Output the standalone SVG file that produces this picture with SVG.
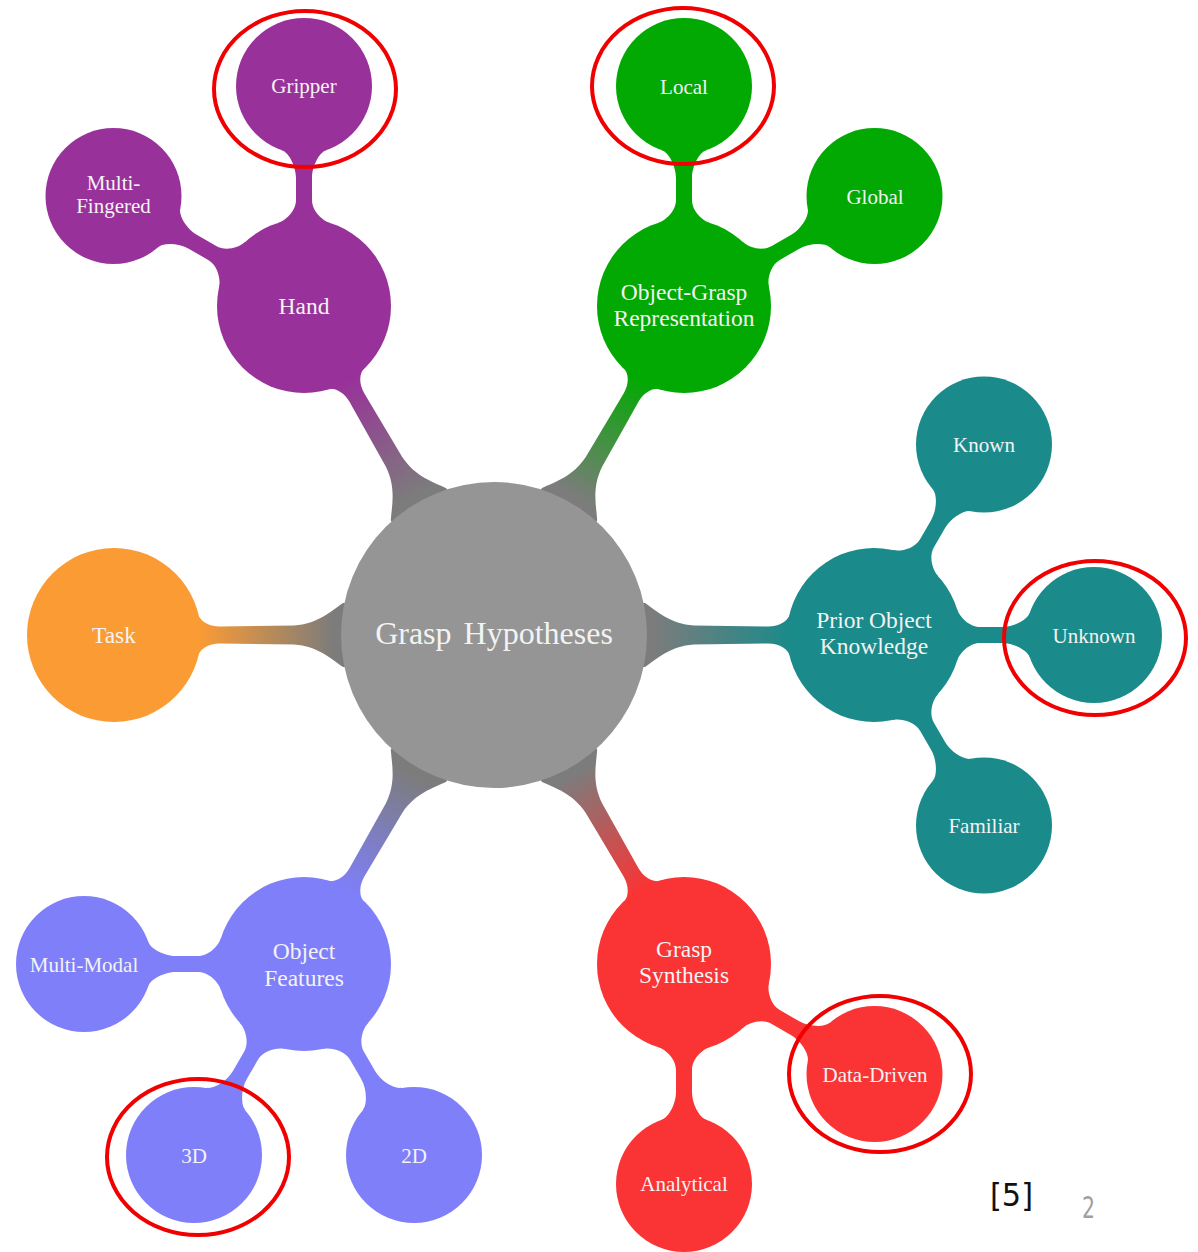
<svg xmlns="http://www.w3.org/2000/svg" width="1198" height="1252" viewBox="0 0 1198 1252">
  <style>
    .t1 { font-family: "Liberation Serif", "DejaVu Serif", serif; font-size: 32px; fill: #f3f3f3; text-anchor: middle; word-spacing: 4px; }
    .t2 { font-family: "Liberation Serif", "DejaVu Serif", serif; font-size: 23.5px; fill: #f3f3f3; text-anchor: middle; }
    .t3 { font-family: "Liberation Serif", "DejaVu Serif", serif; font-size: 21px; fill: #f3f3f3; text-anchor: middle; }
    .gray { fill: #959595; }
    .purple { fill: #99319a; }
    .green { fill: #02a902; }
    .teal { fill: #1b8a8a; }
    .red { fill: #fa3434; }
    .blue { fill: #7f7ff9; }
    .orange { fill: #fb9b34; }
    .mark { fill: none; stroke: #f00000; stroke-width: 4; }
    .ref { font-family: "Liberation Sans Narrow", "DejaVu Sans Condensed", "Liberation Sans", sans-serif; }
  </style>
  <defs>
    <linearGradient id="gPurple" gradientUnits="userSpaceOnUse" x1="160" y1="0" x2="295" y2="0">
      <stop offset="0" stop-color="#7c7c7c"/><stop offset="1" stop-color="#99319a"/>
    </linearGradient>
    <linearGradient id="gGreen" gradientUnits="userSpaceOnUse" x1="160" y1="0" x2="295" y2="0">
      <stop offset="0" stop-color="#7c7c7c"/><stop offset="1" stop-color="#02a902"/>
    </linearGradient>
    <linearGradient id="gTeal" gradientUnits="userSpaceOnUse" x1="160" y1="0" x2="295" y2="0">
      <stop offset="0" stop-color="#7c7c7c"/><stop offset="1" stop-color="#1b8a8a"/>
    </linearGradient>
    <linearGradient id="gRed" gradientUnits="userSpaceOnUse" x1="160" y1="0" x2="295" y2="0">
      <stop offset="0" stop-color="#7c7c7c"/><stop offset="1" stop-color="#fa3434"/>
    </linearGradient>
    <linearGradient id="gBlue" gradientUnits="userSpaceOnUse" x1="160" y1="0" x2="295" y2="0">
      <stop offset="0" stop-color="#7c7c7c"/><stop offset="1" stop-color="#7f7ff9"/>
    </linearGradient>
    <linearGradient id="gOrange" gradientUnits="userSpaceOnUse" x1="160" y1="0" x2="295" y2="0">
      <stop offset="0" stop-color="#7c7c7c"/><stop offset="1" stop-color="#fb9b34"/>
    </linearGradient>
    <!-- center (r=153 at 0) to child (r=87 at 380) -->
    <path id="bar1" d="M130,-32 L151,-32 C163,-24 176,-11 200,-9.5 L274,-8.5 C286,-8.5 294.8,-14.5 296.6,-22.5 L330,-22.5 L330,22.5 L296.6,22.5 C294.8,14.5 286,8.5 274,8.5 L200,9.5 C176,11 163,24 151,32 L130,32 Z"/>
    <!-- child (r=87 at 0) to grandchild (r=68 at 220) -->
    <path id="bar2" d="M60,-26 L83,-26 C85.4,-18.4 95,-8 106,-8 L128,-8 C140,-8 153.4,-15.4 155.7,-22 L175,-22 L175,22 L155.7,22 C153.4,15.4 140,8 128,8 L106,8 C95,8 85.4,18.4 83,26 L60,26 Z"/>
  </defs>

  <rect width="1198" height="1252" fill="#ffffff"/>

  <g id="connectors">
    <use href="#bar1" fill="url(#gPurple)" transform="translate(494,635) rotate(-120)"/>
    <use href="#bar1" fill="url(#gGreen)" transform="translate(494,635) rotate(-60)"/>
    <use href="#bar1" fill="url(#gTeal)" transform="translate(494,635) rotate(0)"/>
    <use href="#bar1" fill="url(#gRed)" transform="translate(494,635) rotate(60)"/>
    <use href="#bar1" fill="url(#gBlue)" transform="translate(494,635) rotate(120)"/>
    <use href="#bar1" fill="url(#gOrange)" transform="translate(494,635) rotate(180)"/>

    <use href="#bar2" class="purple" transform="translate(304,306) rotate(-90)"/>
    <use href="#bar2" class="purple" transform="translate(304,306) rotate(-150)"/>
    <use href="#bar2" class="green" transform="translate(684,306) rotate(-90)"/>
    <use href="#bar2" class="green" transform="translate(684,306) rotate(-30)"/>
    <use href="#bar2" class="teal" transform="translate(874,635) rotate(-60)"/>
    <use href="#bar2" class="teal" transform="translate(874,635) rotate(0)"/>
    <use href="#bar2" class="teal" transform="translate(874,635) rotate(60)"/>
    <use href="#bar2" class="red" transform="translate(684,964) rotate(30)"/>
    <use href="#bar2" class="red" transform="translate(684,964) rotate(90)"/>
    <use href="#bar2" class="blue" transform="translate(304,964) rotate(180)"/>
    <use href="#bar2" class="blue" transform="translate(304,964) rotate(120)"/>
    <use href="#bar2" class="blue" transform="translate(304,964) rotate(60)"/>
  </g>

  <g id="node-grasp-hypotheses">
    <circle class="gray" cx="494" cy="635" r="153"/>
    <text class="t1" x="494" y="644">Grasp Hypotheses</text>
  </g>

  <g id="node-hand">
    <circle class="purple" cx="304" cy="306" r="87"/>
    <text class="t2" x="304" y="314">Hand</text>
  </g>
  <g id="node-gripper">
    <circle class="purple" cx="304" cy="86" r="68"/>
    <text class="t3" x="304" y="93">Gripper</text>
  </g>
  <g id="node-multi-fingered">
    <circle class="purple" cx="113.5" cy="196" r="68"/>
    <text class="t3" x="113.5" y="190">Multi-</text>
    <text class="t3" x="113.5" y="213">Fingered</text>
  </g>

  <g id="node-object-grasp-representation">
    <circle class="green" cx="684" cy="306" r="87"/>
    <text class="t2" x="684" y="300">Object-Grasp</text>
    <text class="t2" x="684" y="326">Representation</text>
  </g>
  <g id="node-local">
    <circle class="green" cx="684" cy="86" r="68"/>
    <text class="t3" x="684" y="94">Local</text>
  </g>
  <g id="node-global">
    <circle class="green" cx="874.5" cy="196" r="68"/>
    <text class="t3" x="875" y="204">Global</text>
  </g>

  <g id="node-prior-object-knowledge">
    <circle class="teal" cx="874" cy="635" r="87"/>
    <text class="t2" x="874" y="628">Prior Object</text>
    <text class="t2" x="874" y="654">Knowledge</text>
  </g>
  <g id="node-known">
    <circle class="teal" cx="984" cy="444.5" r="68"/>
    <text class="t3" x="984" y="452">Known</text>
  </g>
  <g id="node-unknown">
    <circle class="teal" cx="1094" cy="635" r="68"/>
    <text class="t3" x="1094" y="643">Unknown</text>
  </g>
  <g id="node-familiar">
    <circle class="teal" cx="984" cy="825.5" r="68"/>
    <text class="t3" x="984" y="833">Familiar</text>
  </g>

  <g id="node-grasp-synthesis">
    <circle class="red" cx="684" cy="964" r="87"/>
    <text class="t2" x="684" y="957">Grasp</text>
    <text class="t2" x="684" y="983">Synthesis</text>
  </g>
  <g id="node-data-driven">
    <circle class="red" cx="874.5" cy="1074" r="68"/>
    <text class="t3" x="875" y="1082">Data-Driven</text>
  </g>
  <g id="node-analytical">
    <circle class="red" cx="684" cy="1184" r="68"/>
    <text class="t3" x="684" y="1191">Analytical</text>
  </g>

  <g id="node-object-features">
    <circle class="blue" cx="304" cy="964" r="87"/>
    <text class="t2" x="304" y="959">Object</text>
    <text class="t2" x="304" y="986">Features</text>
  </g>
  <g id="node-multi-modal">
    <circle class="blue" cx="84" cy="964" r="68"/>
    <text class="t3" x="84" y="972">Multi-Modal</text>
  </g>
  <g id="node-3d">
    <circle class="blue" cx="194" cy="1155" r="68"/>
    <text class="t3" x="194" y="1163">3D</text>
  </g>
  <g id="node-2d">
    <circle class="blue" cx="414" cy="1155" r="68"/>
    <text class="t3" x="414" y="1163">2D</text>
  </g>

  <g id="node-task">
    <circle class="orange" cx="114" cy="635" r="87"/>
    <text class="t2" x="114" y="643">Task</text>
  </g>

  <g id="highlights">
    <ellipse class="mark" cx="305" cy="89" rx="91" ry="78"/>
    <ellipse class="mark" cx="683" cy="86" rx="91" ry="78"/>
    <ellipse class="mark" cx="1095" cy="638" rx="91" ry="77"/>
    <ellipse class="mark" cx="880" cy="1074" rx="91" ry="78"/>
    <ellipse class="mark" cx="198" cy="1157" rx="91" ry="78"/>
  </g>

  <text class="ref" x="990" y="1206" font-size="32" fill="#111111" textLength="43" lengthAdjust="spacingAndGlyphs">[5]</text>
  <text class="ref" x="1082" y="1218" font-size="30" fill="#a0a0a0" textLength="13" lengthAdjust="spacingAndGlyphs">2</text>
</svg>
